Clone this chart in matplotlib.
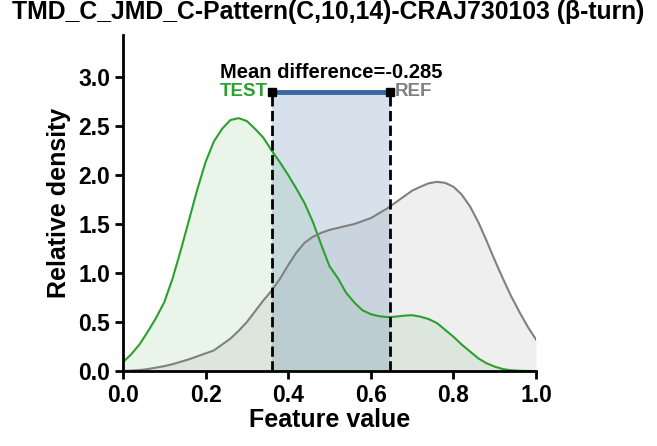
import numpy as np
import matplotlib
matplotlib.use("Agg")
import matplotlib.pyplot as plt

plt.rcParams['font.family'] = ['Liberation Sans', 'DejaVu Sans']

x_grid = [0.00, 0.02, 0.04, 0.06, 0.08, 0.10, 0.12, 0.14, 0.16, 0.18,
          0.20, 0.22, 0.24, 0.26, 0.28, 0.30, 0.32, 0.34, 0.36, 0.38,
          0.40, 0.42, 0.44, 0.46, 0.48, 0.50, 0.52, 0.54, 0.56, 0.58,
          0.60, 0.62, 0.64, 0.66, 0.68, 0.70, 0.72, 0.74, 0.76, 0.78,
          0.80, 0.82, 0.84, 0.86, 0.88, 0.90, 0.92, 0.94, 0.96, 0.98, 1.00]
test_density = [0.09, 0.17, 0.27, 0.40, 0.54, 0.70, 0.94, 1.23, 1.54, 1.85,
                2.13, 2.34, 2.47, 2.56, 2.58, 2.55, 2.47, 2.38, 2.25, 2.13,
                2.00, 1.86, 1.71, 1.52, 1.29, 1.07, 0.95, 0.80, 0.70, 0.62,
                0.58, 0.56, 0.55, 0.555, 0.565, 0.57, 0.555, 0.53, 0.49, 0.42,
                0.35, 0.27, 0.20, 0.13, 0.08, 0.045, 0.02, 0.008, 0.003, 0.001, 0.0]
ref_density = [0.00, 0.005, 0.01, 0.02, 0.035, 0.05, 0.07, 0.095, 0.12, 0.15,
               0.18, 0.21, 0.27, 0.33, 0.41, 0.50, 0.61, 0.72, 0.82, 0.94,
               1.08, 1.21, 1.31, 1.37, 1.41, 1.44, 1.46, 1.48, 1.50, 1.53,
               1.56, 1.61, 1.66, 1.72, 1.78, 1.84, 1.88, 1.915, 1.93, 1.92,
               1.88, 1.80, 1.68, 1.52, 1.33, 1.13, 0.94, 0.76, 0.60, 0.45, 0.32]
mean_test = 0.362
mean_ref = 0.647
mean_diff_label = "Mean difference=-0.285"
bar_y = 2.85
y_max = 3.43

fig = plt.figure(figsize=(6.57, 4.46), dpi=100)
ax = fig.add_axes([0.187, 0.168, 0.629, 0.754])

green = "#2ca02c"
grey = "#808080"
ax.fill_between(x_grid, test_density, color=green, alpha=0.1, lw=0)
ax.plot(x_grid, test_density, color=green, lw=1.5)
ax.fill_between(x_grid, ref_density, color=grey, alpha=0.12, lw=0)
ax.plot(x_grid, ref_density, color=grey, lw=1.5)

ax.axvspan(mean_test, mean_ref, ymin=0, ymax=bar_y / y_max, color="#4a78a8", alpha=0.22, lw=0)
ax.plot([mean_test, mean_test], [0, bar_y], color="black", ls="--", lw=2)
ax.plot([mean_ref, mean_ref], [0, bar_y], color="black", ls="--", lw=2)
ax.plot([mean_test, mean_ref], [bar_y, bar_y], color="#3a68a0", lw=3.5)
ax.plot([mean_test, mean_ref], [bar_y, bar_y], ls="none", marker="s", ms=6, color="black")

ax.text((mean_test + mean_ref) / 2, bar_y + 0.1, mean_diff_label, ha="center", va="bottom",
        fontsize=14.5, fontweight="bold")
ax.text(mean_test - 0.012, bar_y, "TEST", ha="right", va="center", color=green,
        fontsize=13.5, fontweight="bold")
ax.text(mean_ref + 0.012, bar_y, "REF", ha="left", va="center", color=grey,
        fontsize=13.5, fontweight="bold")

ax.set_xlim(0, 1)
ax.set_ylim(0, y_max)
ax.set_xticks([0.0, 0.2, 0.4, 0.6, 0.8, 1.0])
ax.set_yticks([0.0, 0.5, 1.0, 1.5, 2.0, 2.5, 3.0])
ax.set_xticklabels(["0.0", "0.2", "0.4", "0.6", "0.8", "1.0"])
ax.set_yticklabels(["0.0", "0.5", "1.0", "1.5", "2.0", "2.5", "3.0"])
for lab in ax.get_xticklabels() + ax.get_yticklabels():
    lab.set_fontweight("bold")
    lab.set_fontsize(16.5)
ax.tick_params(width=2, length=6, pad=3)
for s in ["top", "right"]:
    ax.spines[s].set_visible(False)
for s in ["left", "bottom"]:
    ax.spines[s].set_linewidth(2)

ax.set_xlabel("Feature value", fontsize=18, fontweight="bold", labelpad=1)
ax.set_ylabel("Relative density", fontsize=18, fontweight="bold", labelpad=5)
fig.suptitle("TMD_C_JMD_C-Pattern(C,10,14)-CRAJ730103 (β-turn)", fontsize=17.8,
             fontweight="bold", x=0.5, y=1.0)

fig.savefig("out.png", dpi=100)
